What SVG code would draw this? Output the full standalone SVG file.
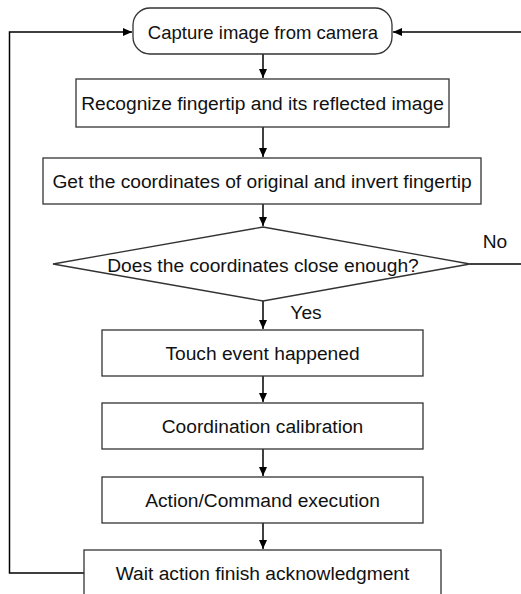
<svg xmlns="http://www.w3.org/2000/svg" width="521" height="594" viewBox="0 0 521 594">
<style>
.box{fill:#fff;stroke:#333;stroke-width:1.3}
.t{font-family:"Liberation Sans",Arial,sans-serif;font-size:19.2px;fill:#111;text-anchor:middle}
.s{font-size:18.5px}
.c{fill:none;stroke:#000;stroke-width:1.5}
</style>
<defs>
<marker id="ah" markerWidth="10" markerHeight="8" refX="9" refY="4" orient="auto" markerUnits="userSpaceOnUse">
<path d="M0,0 L9,4 L0,8 Z" fill="#000"/>
</marker>
</defs>
<rect width="521" height="594" fill="#fff"/>
<g id="connectors">
<line class="c" x1="263" y1="54" x2="263" y2="78" marker-end="url(#ah)"/>
<line class="c" x1="263" y1="127" x2="263" y2="157" marker-end="url(#ah)"/>
<line class="c" x1="263" y1="204" x2="263" y2="226" marker-end="url(#ah)"/>
<line class="c" x1="263" y1="301" x2="263" y2="329" marker-end="url(#ah)"/>
<line class="c" x1="263" y1="376" x2="263" y2="402" marker-end="url(#ah)"/>
<line class="c" x1="263" y1="449" x2="263" y2="476" marker-end="url(#ah)"/>
<line class="c" x1="263" y1="523" x2="263" y2="549" marker-end="url(#ah)"/>
<polyline class="c" points="470,264 521,264"/>
<line class="c" x1="521" y1="32" x2="393" y2="32" marker-end="url(#ah)"/>
<polyline class="c" points="84,573 9.5,573 9.5,32 132,32" marker-end="url(#ah)"/>
<text class="t" x="495" y="248">No</text>
<text class="t" x="306" y="319">Yes</text>
</g>
<g id="capture">
<rect class="box" x="133" y="8" width="259" height="46" rx="17"/>
<text class="t s" x="263" y="38.5">Capture image from camera</text>
</g>
<g id="recognize">
<rect class="box" x="76" y="79" width="373" height="48"/>
<text class="t" x="262.5" y="109.5">Recognize fingertip and its reflected image</text>
</g>
<g id="coords">
<rect class="box" x="43" y="158" width="438" height="46"/>
<text class="t" x="262" y="187.5">Get the coordinates of original and invert fingertip</text>
</g>
<g id="decision">
<polygon class="box" points="263,227 470,264 263,301 53,264"/>
<text class="t" x="263" y="272">Does the coordinates close enough?</text>
</g>
<g id="touch">
<rect class="box" x="102" y="330" width="321" height="46"/>
<text class="t" x="262.5" y="359.5">Touch event happened</text>
</g>
<g id="calib">
<rect class="box" x="102" y="403" width="321" height="46"/>
<text class="t" x="262.5" y="432.5">Coordination calibration</text>
</g>
<g id="action">
<rect class="box" x="102" y="477" width="321" height="46"/>
<text class="t" x="262.5" y="506.5">Action/Command execution</text>
</g>
<g id="wait">
<rect class="box" x="84" y="550" width="357" height="46"/>
<text class="t" x="262.5" y="579.5">Wait action finish acknowledgment</text>
</g>
</svg>
